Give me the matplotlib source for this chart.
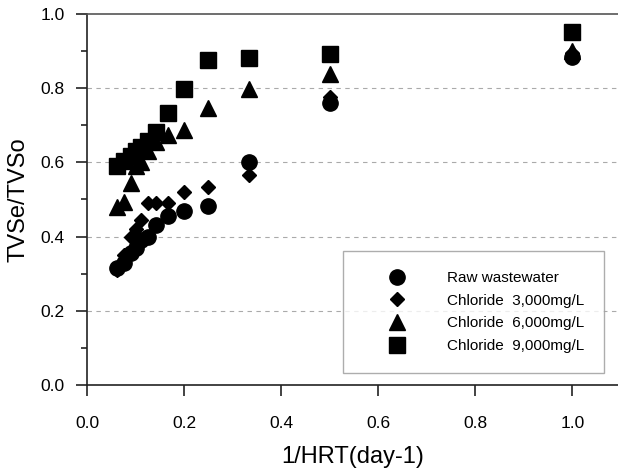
import numpy as np
import matplotlib.pyplot as plt

plt.rcParams['font.family'] = ['Liberation Sans', 'DejaVu Sans']

# 1/HRT (day-1)
hrt_inv = [1/16, 1/13, 1/11, 1/10, 1/9, 1/8, 1/7, 1/6, 1/5, 1/4, 1/3, 1/2, 1.0]

raw = [0.315, 0.33, 0.355, 0.37, 0.39, 0.40, 0.43, 0.455, 0.47, 0.483, 0.60, 0.76, 0.885]
cl3000 = [0.31, 0.35, 0.40, 0.42, 0.445, 0.491, 0.491, 0.491, 0.52, 0.534, 0.566, 0.775, 0.895]
cl6000 = [0.48, 0.493, 0.545, 0.59, 0.60, 0.63, 0.655, 0.674, 0.687, 0.747, 0.798, 0.838, 0.90]
cl9000 = [0.59, 0.604, 0.617, 0.631, 0.642, 0.658, 0.682, 0.733, 0.798, 0.876, 0.881, 0.892, 0.951]

labels = ['Raw wastewater', 'Chloride  3,000mg/L', 'Chloride  6,000mg/L', 'Chloride  9,000mg/L']

fig = plt.figure(figsize=(6.18, 4.75), dpi=100)
ax = fig.add_axes([87 / 618, 1 - 385 / 475, 1 - 87 / 618, (385 - 14) / 475])

series = [(raw, 'o', 11), (cl3000, 'D', 7.5), (cl6000, '^', 11), (cl9000, 's', 11)]
handles = []
for (vals, mk, ms), lab in zip(series, labels):
    h, = ax.plot(hrt_inv, vals, linestyle='none', marker=mk, markersize=ms,
                 color='black', label=lab)
    handles.append(h)

ax.set_xlim(0, (618 - 86.7) / 485.6)
ax.set_ylim(0, 1.0)
ax.set_xticks(np.arange(0, 1.01, 0.2))
ax.set_yticks(np.arange(0, 1.01, 0.2))
ax.set_yticks(np.arange(0.1, 1.0, 0.2), minor=True)
ax.xaxis.set_major_formatter(plt.FormatStrFormatter('%.1f'))
ax.yaxis.set_major_formatter(plt.FormatStrFormatter('%.1f'))

for y in [0.2, 0.4, 0.6, 0.8]:
    ax.axhline(y, color='#aaaaaa', lw=0.8, ls=(0, (4, 4)), zorder=0)

ax.spines['right'].set_visible(False)
ax.spines['top'].set_color('#555555')
ax.spines['top'].set_linewidth(1.2)
for s in ['left', 'bottom']:
    ax.spines[s].set_color('#222222')
    ax.spines[s].set_linewidth(1.2)

ax.tick_params(axis='both', which='major', direction='out', length=8, width=1.2,
               labelsize=12.5, color='#222222')
ax.tick_params(axis='y', which='minor', direction='out', length=4.5, width=1.2,
               color='#222222')
ax.tick_params(axis='x', which='major', pad=14)
ax.tick_params(axis='y', which='major', pad=8)

ax.set_xlabel('1/HRT(day-1)', fontsize=17, labelpad=11)
ax.set_ylabel('TVSe/TVSo', fontsize=17, labelpad=8)

leg = ax.legend(handles=handles, loc='upper left',
                bbox_to_anchor=(343 / 618, 1 - 251 / 475),
                bbox_transform=fig.transFigure, fontsize=11, frameon=True,
                fancybox=False, borderpad=1.3, labelspacing=0.57,
                handlelength=4.45, handletextpad=1.05, borderaxespad=0)
leg.get_frame().set_edgecolor('#999999')
leg.get_frame().set_linewidth(1.0)

fig.savefig('out.png', dpi=100)
